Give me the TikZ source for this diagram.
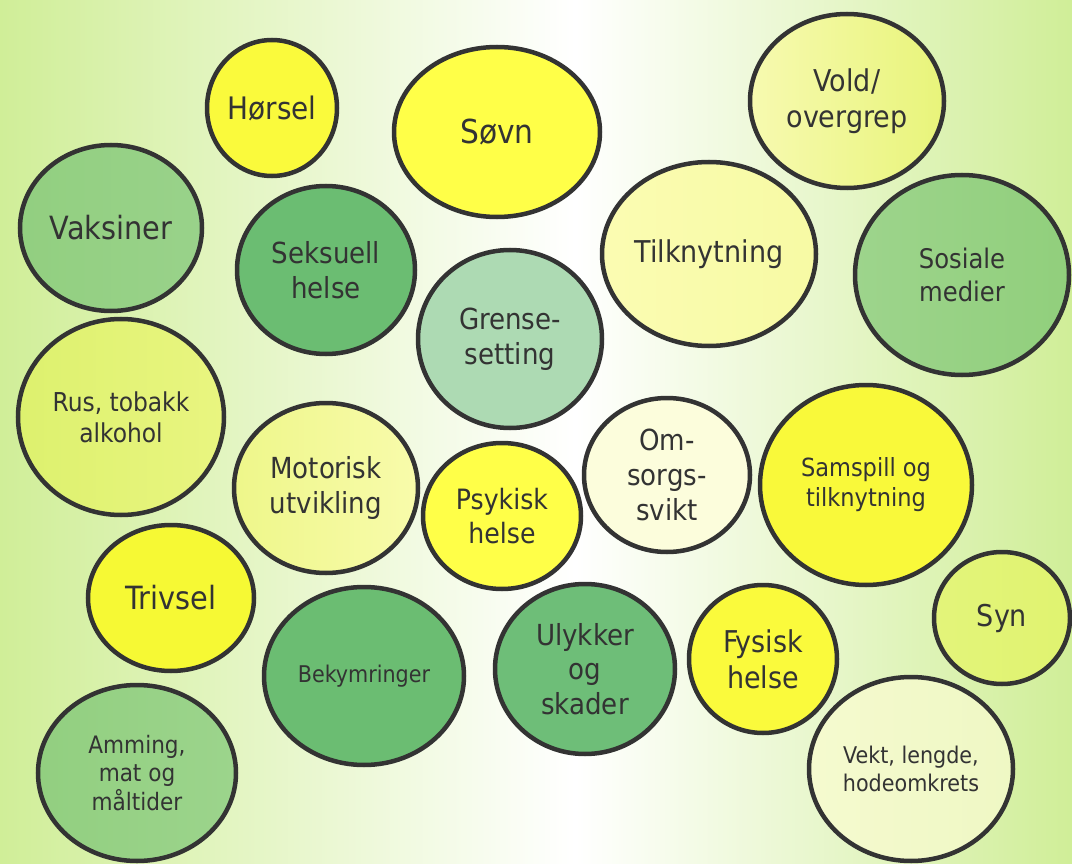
\documentclass[tikz,border=0pt]{standalone}
\usepackage{fontspec}
\setmainfont{DejaVu Sans Condensed}
\usepackage{xcolor}
\usetikzlibrary{shapes.geometric}

\definecolor{kant}{HTML}{333333}
\definecolor{bakgrunn}{HTML}{D0EE98}
\definecolor{sterkgul}{HTML}{FFFF48}
\definecolor{gul}{HTML}{FAFA3C}
\definecolor{gul2}{HTML}{F9F93A}
\definecolor{gul3}{HTML}{F6F934}
\definecolor{morkgronn}{HTML}{6BBD72}
\definecolor{morkgronn2}{HTML}{6EBE78}
\definecolor{lysgronn}{HTML}{ADDAB3}
\definecolor{blek}{HTML}{FCFDDC}
% venstre/hoeyre farger for skygge
\definecolor{voldA}{HTML}{F7FAB0}\definecolor{voldB}{HTML}{E8F47A}
\definecolor{vaksA}{HTML}{92CF80}\definecolor{vaksB}{HTML}{99D28A}
\definecolor{tilkA}{HTML}{FBFCB2}\definecolor{tilkB}{HTML}{F7FAA4}
\definecolor{sosA}{HTML}{9DD48C}\definecolor{sosB}{HTML}{91CF7C}
\definecolor{rusA}{HTML}{DDF16E}\definecolor{rusB}{HTML}{E9F580}
\definecolor{motA}{HTML}{EEF78A}\definecolor{motB}{HTML}{F8FBAB}
\definecolor{ammA}{HTML}{92CF80}\definecolor{ammB}{HTML}{9CD48C}
\definecolor{synA}{HTML}{E3F47A}\definecolor{synB}{HTML}{E0F370}
\definecolor{vektA}{HTML}{F5FACF}\definecolor{vektB}{HTML}{EFF8C4}

\begin{document}
\begin{tikzpicture}[x=1pt, y=-1pt,
		boble/.style={ellipse, draw=kant, line width=4.5pt, text=kant,
			align=center, inner sep=0pt},
		str/.style={font=\fontsize{#1pt}{\the\dimexpr #1pt*12/10\relax}\selectfont},
		skygge/.style={left color=#1A, right color=#1B}]
	\def\bredde{1072};
	\def\hoyde{864};
	\def\midt{575};
	
	% bakgrunn
	\useasboundingbox (0,0) rectangle (\bredde,\hoyde);
	\shade[left color=bakgrunn, right color=white] (0,0) rectangle (\midt,\hoyde);
	\shade[left color=white, right color=bakgrunn] (\midt,0) rectangle (\bredde,\hoyde);
	
	% bobler, oeverst
	\node[boble, fill=gul, minimum width=130, minimum height=136, str=31] (horsel) at (272,108) {Hørsel};
	\node[boble, fill=sterkgul, minimum width=206, minimum height=170, str=33] (sovn) at (497,132) {Søvn};
	\node[boble, skygge=vold, minimum width=194, minimum height=174, str=30] (vold) at (847,101) {Vold/\\overgrep};
	\node[boble, skygge=vaks, minimum width=182, minimum height=166, str=32] (vaksiner) at (111,228) {Vaksiner};
	\node[boble, fill=morkgronn, minimum width=178, minimum height=168, str=29] (seksuell) at (326,270) {Seksuell\\helse};
	\node[boble, skygge=tilk, minimum width=214, minimum height=184, str=30] (tilknytning) at (709,254) {Tilknytning};
	\node[boble, skygge=sos, minimum width=214, minimum height=200, str=27] (sosiale) at (962,275) {Sosiale\\medier};
	\node[boble, fill=lysgronn, minimum width=184, minimum height=178, str=29] (grense) at (510,339) {Grense-\\setting};
	
	% midten
	\node[boble, skygge=rus, minimum width=206, minimum height=196, str=26] (rus) at (121,417) {Rus, tobakk\\alkohol};
	\node[boble, skygge=mot, minimum width=184, minimum height=170, str=29] (motorisk) at (326,488) {Motorisk\\utvikling};
	\node[boble, fill=sterkgul, minimum width=158, minimum height=146, str=28] (psykisk) at (502,516) {Psykisk\\helse};
	\node[boble, fill=blek, minimum width=166, minimum height=154, str=29] (omsorg) at (667,475) {Om-\\sorgs-\\svikt};
	\node[boble, fill=gul2, minimum width=212, minimum height=200, str=25] (samspill) at (866,485) {Samspill og\\tilknytning};
	
	% nederst
	\node[boble, fill=gul3, minimum width=166, minimum height=146, str=32] (trivsel) at (171,598) {Trivsel};
	\node[boble, fill=morkgronn, minimum width=200, minimum height=178, str=23] (bekymringer) at (364,676) {Bekymringer};
	\node[boble, skygge=amm, minimum width=198, minimum height=176, str=24] (amming) at (137,773) {Amming,\\mat og\\måltider};
	\node[boble, fill=morkgronn2, minimum width=180, minimum height=170, str=29] (ulykker) at (585,669) {Ulykker\\og\\skader};
	\node[boble, fill=gul, minimum width=148, minimum height=148, str=30] (fysisk) at (763,659) {Fysisk\\helse};
	\node[boble, skygge=syn, minimum width=136, minimum height=132, str=30] (syn) at (1002,618) {Syn};
	\node[boble, skygge=vekt, minimum width=204, minimum height=184, str=23] (vekt) at (911,769) {Vekt, lengde,\\hodeomkrets};
\end{tikzpicture}
\end{document}
